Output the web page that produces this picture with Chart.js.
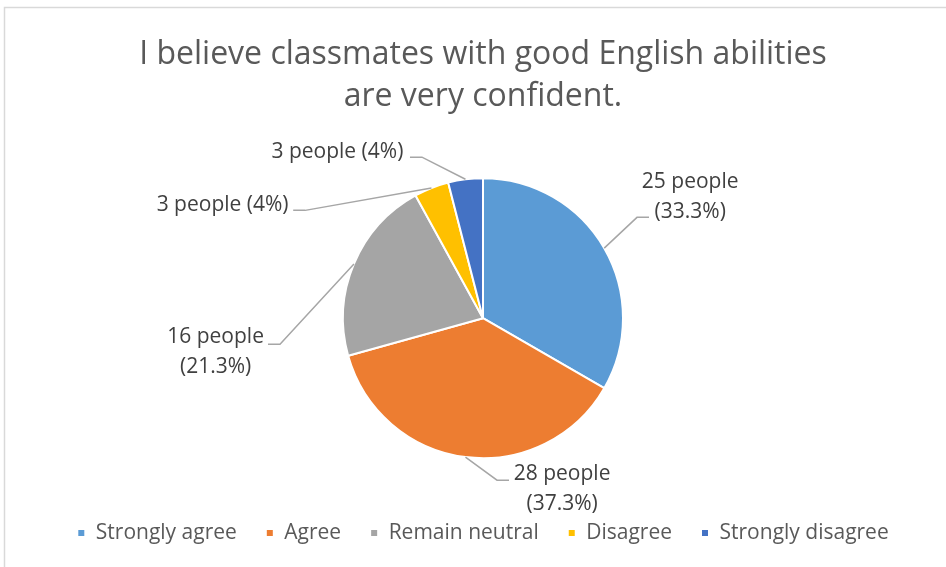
<!DOCTYPE html>
<html>
<head>
<meta charset="utf-8">
<script src="https://cdn.jsdelivr.net/npm/chart.js@4.4.1/dist/chart.umd.min.js"></script>
<style>
  html, body { margin: 0; padding: 0; background: #fff; }
  #wrap { width: 946px; height: 567px; }
</style>
</head>
<body>
<div id="wrap"><canvas id="pie" width="946" height="567"></canvas></div>
<script>
const categories = ['Strongly agree', 'Agree', 'Remain neutral', 'Disagree', 'Strongly disagree'];
const counts = [25, 28, 16, 3, 3];
const sliceColors = ['#5B9BD5', '#ED7D31', '#A5A5A5', '#FFC000', '#4472C4'];
const titleLines = ['I believe classmates with good English abilities', 'are very confident.'];

// where each callout sits, in pie radii from the centre:
// elbow = bend of the leader line, tail = direction of the short flat stub,
// text = centre of the label block, wrap = split count and percent on two lines
const callouts = [
  { elbow: [1.10, -0.72], tail: 1, text: [1.48, -0.864], wrap: true },
  { elbow: [0.10, 1.157], tail: 1, text: [0.565, 1.218], wrap: true },
  { elbow: [-1.45, 0.186], tail: -1, text: [-1.91, 0.243], wrap: true },
  { elbow: [-1.27, -0.77], tail: -1, text: [-1.86, -0.807], wrap: false },
  { elbow: [-0.436, -1.15], tail: -1, text: [-1.04, -1.186], wrap: false }
];

const FONT = "'Open Sans', 'Noto Sans', sans-serif";

function pctText(v, total) {
  let s = (v / total * 100).toFixed(1);
  if (s.endsWith('.0')) s = s.slice(0, -2);
  return '(' + s + '%)';
}

// light frame around the chart object
const frame = {
  id: 'frame',
  beforeDraw(chart) {
    const c = chart.ctx;
    c.save();
    c.strokeStyle = '#D9D9D9';
    c.lineWidth = 1.5;
    c.strokeRect(4.5, 7.5, chart.width + 20, chart.height + 20);
    c.restore();
  }
};

// data labels with leader lines
const calloutLabels = {
  id: 'calloutLabels',
  afterDatasetsDraw(chart) {
    const c = chart.ctx;
    const meta = chart.getDatasetMeta(0);
    const values = chart.data.datasets[0].data;
    const total = values.reduce((a, b) => a + b, 0);
    c.save();
    meta.data.forEach((arc, i) => {
      const co = callouts[i];
      const R = arc.outerRadius;
      const mid = (arc.startAngle + arc.endAngle) / 2;
      const sx = arc.x + Math.cos(mid) * R;
      const sy = arc.y + Math.sin(mid) * R;
      const ex = arc.x + co.elbow[0] * R;
      const ey = arc.y + co.elbow[1] * R;
      c.strokeStyle = '#A6A6A6';
      c.lineWidth = 1.5;
      c.beginPath();
      c.moveTo(sx, sy);
      c.lineTo(ex, ey);
      c.lineTo(ex + co.tail * 12, ey);
      c.stroke();

      const first = values[i] + ' people';
      const second = pctText(values[i], total);
      const tx = arc.x + co.text[0] * R;
      const ty = arc.y + co.text[1] * R;
      c.fillStyle = '#404040';
      c.font = '21px ' + FONT;
      c.textAlign = 'center';
      c.textBaseline = 'middle';
      if (co.wrap) {
        c.fillText(first, tx, ty - 15);
        c.fillText(second, tx, ty + 15);
      } else {
        c.fillText(first + ' ' + second, tx, ty);
      }
    });
    c.restore();
  }
};

const ctx = document.getElementById('pie').getContext('2d');
new Chart(ctx, {
  type: 'pie',
  data: {
    labels: categories,
    datasets: [{
      data: counts,
      backgroundColor: sliceColors,
      borderColor: '#FFFFFF',
      borderWidth: 2,
      radius: 140
    }]
  },
  options: {
    responsive: false,
    animation: false,
    devicePixelRatio: 1,
    layout: { padding: { left: 20, right: 0, top: 0, bottom: 13.5 } },
    plugins: {
      title: {
        display: true,
        text: titleLines,
        color: '#595959',
        font: { family: FONT, size: 32, weight: 'normal', lineHeight: 1.31 },
        padding: { top: 34, bottom: 25 }
      },
      legend: {
        position: 'bottom',
        labels: {
          boxWidth: 8,
          boxHeight: 8,
          color: '#595959',
          font: { family: FONT, size: 21 },
          padding: 29
        }
      },
      tooltip: { enabled: false }
    }
  },
  plugins: [frame, calloutLabels]
});
</script>
</body>
</html>
